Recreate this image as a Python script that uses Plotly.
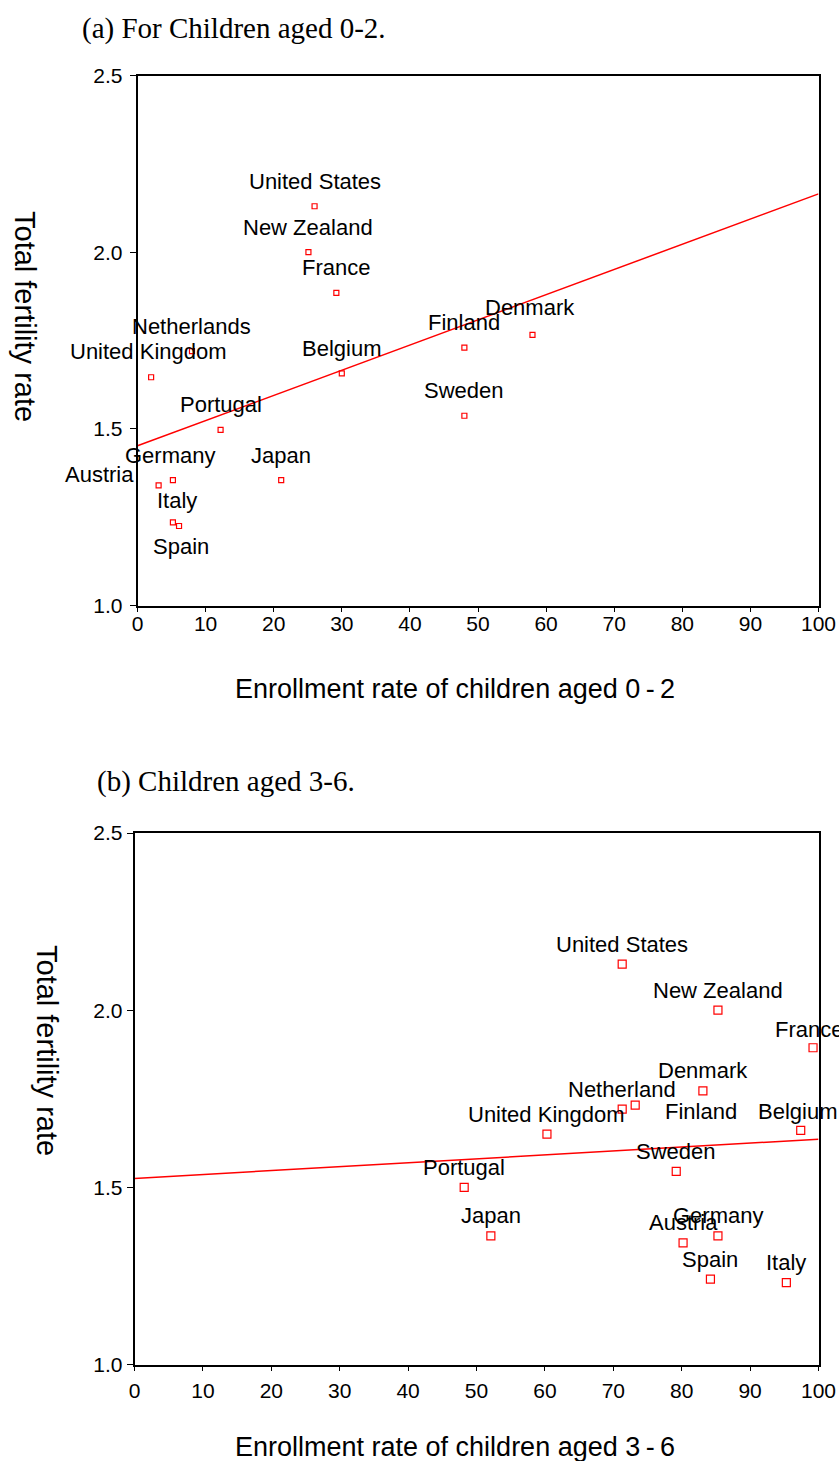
import plotly.graph_objects as go

W, H = 839, 1461

# ---------------- data: panel (a) children aged 0-2 ----------------
countries_a = ["United States", "New Zealand", "France", "Netherlands", "United Kingdom",
               "Belgium", "Portugal", "Japan", "Germany", "Austria", "Italy", "Spain",
               "Finland", "Denmark", "Sweden"]
enroll_a = [26.0, 25.1, 29.2, 8.0, 2.0, 30.0, 12.2, 21.1, 5.2, 3.1, 5.2, 6.1, 48.0, 58.0, 48.0]
tfr_a = [2.13, 2.00, 1.885, 1.72, 1.646, 1.657, 1.497, 1.355, 1.355, 1.34, 1.235, 1.225,
         1.73, 1.766, 1.537]
fit_a_x = [0, 100]
fit_a_y = [1.452, 2.165]

# ---------------- data: panel (b) children aged 3-6 ----------------
countries_b = ["United States", "New Zealand", "France", "Denmark", "Netherland", "Finland",
               "Belgium", "United Kingdom", "Sweden", "Portugal", "Japan", "Germany",
               "Austria", "Spain", "Italy"]
enroll_b = [71.3, 85.3, 99.2, 83.1, 71.3, 73.2, 97.4, 60.3, 79.2, 48.2, 52.1, 85.3, 80.2, 84.2, 95.3]
tfr_b = [2.13, 2.00, 1.894, 1.772, 1.721, 1.732, 1.661, 1.650, 1.545, 1.50, 1.363, 1.363,
         1.343, 1.241, 1.231]
fit_b_x = [0, 100]
fit_b_y = [1.525, 1.636]

x_ticks = list(range(0, 101, 10))
y_ticks = [1.0, 1.5, 2.0, 2.5]

# ---------------- label placement (pixel offsets, styling only) ----------------
label_off_a = {"Austria": (-23, 11, "right"), "Spain": (2, -20, "center"),
               "Italy": (4, 22, "center"), "Germany": (-3, 25, "center"),
               "United Kingdom": (-3, 26, "center"), "Denmark": (-2, 27, "center")}
label_off_b = {"Finland": (66, -6, "center"), "France": (-4, 18, "center"),
               "Belgium": (-3, 19, "center")}

SANS = "Liberation Sans, Arial, sans-serif"
SERIF = "Liberation Serif, Times New Roman, serif"
LABEL_SIZE = 22

fig = go.Figure()

fig.add_trace(go.Scatter(x=fit_a_x, y=fit_a_y, mode="lines", xaxis="x", yaxis="y",
                         line=dict(color="#ff0000", width=1.5), hoverinfo="skip"))
fig.add_trace(go.Scatter(x=enroll_a, y=tfr_a, mode="markers", xaxis="x", yaxis="y",
                         text=countries_a, cliponaxis=False,
                         marker=dict(symbol="square-open", size=5, color="#ff0000",
                                     line=dict(width=1.2, color="#ff0000"))))
fig.add_trace(go.Scatter(x=fit_b_x, y=fit_b_y, mode="lines", xaxis="x2", yaxis="y2",
                         line=dict(color="#ff0000", width=1.5), hoverinfo="skip"))
fig.add_trace(go.Scatter(x=enroll_b, y=tfr_b, mode="markers", xaxis="x2", yaxis="y2",
                         text=countries_b, cliponaxis=False,
                         marker=dict(symbol="square-open", size=8, color="#ff0000",
                                     line=dict(width=1.2, color="#ff0000"))))

annotations = []
for name, xv, yv in zip(countries_a, enroll_a, tfr_a):
    dx, dy, anc = label_off_a.get(name, (0, 25, "center"))
    annotations.append(dict(x=xv, y=yv, xref="x", yref="y", text=name, showarrow=False,
                            xshift=dx, yshift=dy, xanchor=anc, yanchor="middle",
                            font=dict(family=SANS, size=LABEL_SIZE, color="black")))
for name, xv, yv in zip(countries_b, enroll_b, tfr_b):
    dx, dy, anc = label_off_b.get(name, (0, 20, "center"))
    annotations.append(dict(x=xv, y=yv, xref="x2", yref="y2", text=name, showarrow=False,
                            xshift=dx, yshift=dy, xanchor=anc, yanchor="middle",
                            font=dict(family=SANS, size=LABEL_SIZE, color="black")))

def px(xp):
    return xp / W

def py(yp):
    return 1 - yp / H

# panel titles
annotations.append(dict(x=px(80), y=py(29), xref="paper", yref="paper",
                        text="(a) For Children aged 0-2.", showarrow=False,
                        xanchor="left", yanchor="middle",
                        font=dict(family=SERIF, size=29, color="black")))
annotations.append(dict(x=px(95), y=py(781), xref="paper", yref="paper",
                        text="(b) Children aged 3-6.", showarrow=False,
                        xanchor="left", yanchor="middle",
                        font=dict(family=SERIF, size=29, color="black")))
# axis titles
annotations.append(dict(x=px(233), y=py(689), xref="paper", yref="paper",
                        text="Enrollment rate of children aged 0\u2009-\u20092", showarrow=False,
                        xanchor="left", yanchor="middle",
                        font=dict(family=SANS, size=27, color="black")))
annotations.append(dict(x=px(233), y=py(1447), xref="paper", yref="paper",
                        text="Enrollment rate of children aged 3\u2009-\u20096", showarrow=False,
                        xanchor="left", yanchor="middle",
                        font=dict(family=SANS, size=27, color="black")))
annotations.append(dict(x=px(25), y=py(316), xref="paper", yref="paper",
                        text="Total fertility rate", showarrow=False, textangle=90,
                        xanchor="center", yanchor="middle",
                        font=dict(family=SANS, size=29, color="black")))
annotations.append(dict(x=px(47), y=py(1050), xref="paper", yref="paper",
                        text="Total fertility rate", showarrow=False, textangle=90,
                        xanchor="center", yanchor="middle",
                        font=dict(family=SANS, size=29, color="black")))

axis_common = dict(showgrid=False, zeroline=False, showline=True, linecolor="black",
                   linewidth=1.5, mirror=True, ticks="outside", tickcolor="black",
                   tickwidth=1, automargin=False,
                   tickfont=dict(family=SANS, size=21, color="black"))

fig.update_layout(
    width=W, height=H, margin=dict(l=0, r=0, t=0, b=0, pad=0, autoexpand=False),
    paper_bgcolor="white", plot_bgcolor="white", showlegend=False,
    xaxis=dict(domain=[px(137.5), px(818.5)], range=[0, 100], tickvals=x_ticks,
               ticklen=5, ticklabelstandoff=-6, anchor="y", **axis_common),
    yaxis=dict(domain=[py(605.5), py(75.5)], range=[1.0, 2.5], tickvals=y_ticks,
               tickformat=".1f", ticklen=6, ticklabelstandoff=3, anchor="x", **axis_common),
    xaxis2=dict(domain=[px(134.5), px(818.5)], range=[0, 100], tickvals=x_ticks,
                ticklen=5, ticklabelstandoff=2, anchor="y2", **axis_common),
    yaxis2=dict(domain=[py(1364.5), py(833)], range=[1.0, 2.5], tickvals=y_ticks,
                tickformat=".1f", ticklen=6, anchor="x2", **axis_common),
    annotations=annotations,
)

fig.write_html("out.html", config={"displayModeBar": False},
               post_script="document.body.style.margin='0';")
